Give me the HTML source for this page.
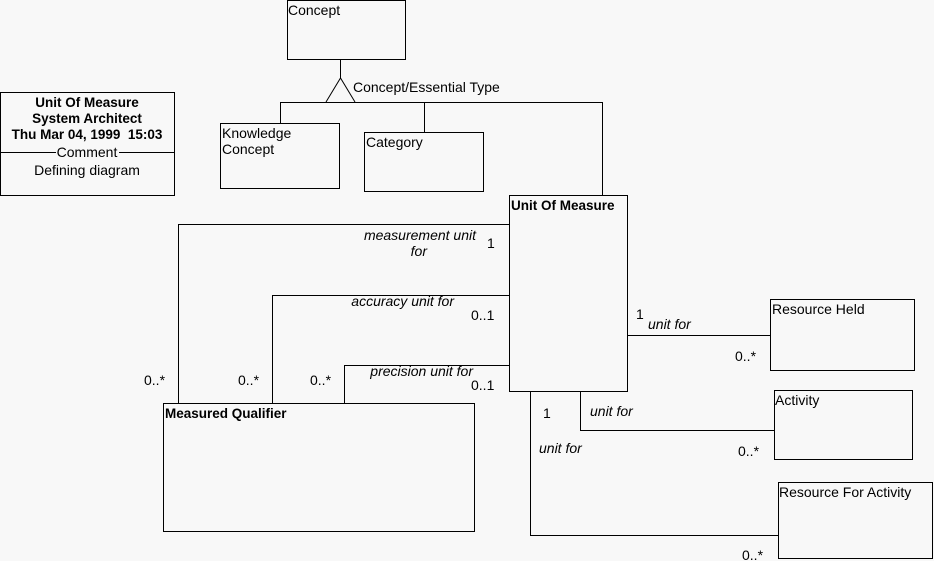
<!DOCTYPE html>
<html><head><style>
body{margin:0;background:#f8f8f8;}
svg{display:block;font-family:"Liberation Sans",sans-serif;font-size:14px;}
.b{font-weight:bold;font-size:13.5px;}
.i{font-style:italic;}
</style></head><body>
<svg width="934" height="561" viewBox="0 0 934 561" xmlns="http://www.w3.org/2000/svg">
<rect width="934" height="561" fill="#f8f8f8"/>
<g fill="none" stroke="#000" stroke-width="1">
<rect x="287.5" y="0.5" width="118" height="59"/>
<rect x="0.5" y="92.5" width="174" height="103"/>
<line x1="1" y1="152.5" x2="56" y2="152.5"/><line x1="119" y1="152.5" x2="174" y2="152.5"/>
<rect x="220.5" y="123.5" width="119" height="65"/>
<rect x="364.5" y="132.5" width="119" height="59"/>
<rect x="509.5" y="195.5" width="118" height="196"/>
<rect x="163.5" y="403.5" width="311" height="128"/>
<rect x="770.5" y="299.5" width="144" height="71"/>
<rect x="774.5" y="390.5" width="138" height="69"/>
<rect x="778.5" y="482.5" width="154" height="76"/>
<line x1="340.5" y1="59" x2="340.5" y2="78"/>
<polyline points="326,102 340.5,78 355,102"/>
<polyline points="280.5,123 280.5,102.5 602.5,102.5 602.5,195"/>
<line x1="424.5" y1="102" x2="424.5" y2="132"/>
<polyline points="509,224.5 178.5,224.5 178.5,403"/>
<polyline points="509,295.5 272.5,295.5 272.5,403"/>
<polyline points="509,365.5 344.5,365.5 344.5,403"/>
<line x1="627" y1="335.5" x2="770" y2="335.5"/>
<polyline points="580.5,391 580.5,430.5 774,430.5"/>
<polyline points="530.5,391 530.5,535.5 778,535.5"/>
</g>
<g fill="#000">
<text x="288" y="15">Concept</text>
<text x="353" y="92">Concept/Essential Type</text>
<text x="222" y="138">Knowledge</text>
<text x="222" y="154">Concept</text>
<text x="366" y="147">Category</text>
<text x="87" y="107" class="b" text-anchor="middle">Unit Of Measure</text>
<text x="87" y="123" class="b" text-anchor="middle">System Architect</text>
<text x="87" y="139" class="b" text-anchor="middle" xml:space="preserve">Thu Mar 04, 1999  15:03</text>
<text x="87" y="157" text-anchor="middle">Comment</text>
<text x="87" y="175" text-anchor="middle">Defining diagram</text>
<text x="511" y="210" class="b">Unit Of Measure</text>
<text x="165" y="418" class="b">Measured Qualifier</text>
<text x="772" y="314">Resource Held</text>
<text x="775" y="405">Activity</text>
<text x="779" y="497">Resource For Activity</text>
<text x="476" y="240" class="i" text-anchor="end">measurement unit</text>
<text x="427" y="256" class="i" text-anchor="end">for</text>
<text x="487" y="248">1</text>
<text x="454" y="306" class="i" text-anchor="end">accuracy unit for</text>
<text x="471" y="320">0..1</text>
<text x="473" y="376" class="i" text-anchor="end">precision unit for</text>
<text x="471" y="390">0..1</text>
<text x="144" y="385">0..*</text>
<text x="238" y="385">0..*</text>
<text x="310" y="385">0..*</text>
<text x="636" y="319">1</text>
<text x="648" y="329" class="i">unit for</text>
<text x="735" y="361">0..*</text>
<text x="543" y="418">1</text>
<text x="590" y="416" class="i">unit for</text>
<text x="738" y="456">0..*</text>
<text x="539" y="453" class="i">unit for</text>
<text x="742" y="560">0..*</text>
</g>
</svg>
</body></html>
